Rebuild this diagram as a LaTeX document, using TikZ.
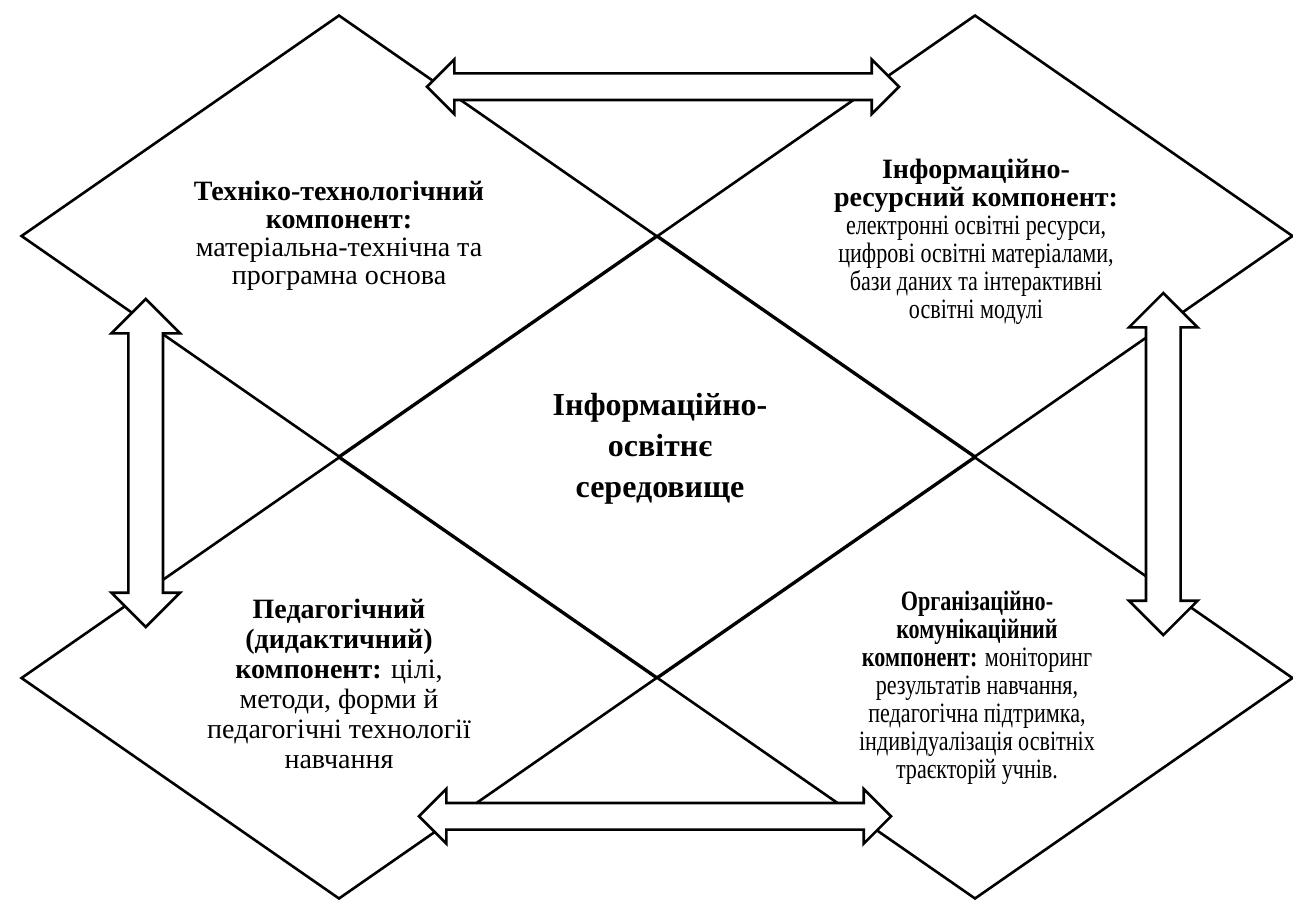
\documentclass[tikz,border=0pt]{standalone}
\usepackage{fontspec}
\setmainfont{Liberation Serif}
\newfontfamily\narrowserif[FakeStretch=0.79]{Liberation Serif}
\usetikzlibrary{shapes.geometric,shapes.arrows,calc}

\tikzset{
	comp/.style={diamond, draw, line width=1.3pt, inner sep=0pt,
		minimum width=318pt, minimum height=221pt},
	comptext/.style={align=center, font=\fontsize{14}{14}\selectfont},
	hollowarrow/.style={double arrow, draw, fill=white, line width=1.3pt,
		inner xsep=0pt, inner ysep=6pt, double arrow head extend=7pt},
	widearrow/.style={hollowarrow, inner ysep=8pt, double arrow head extend=8.5pt}
}

\begin{document}
\begin{tikzpicture}[x=0.5pt,y=-0.5pt]
	\useasboundingbox (0,0) rectangle (1293,902);
	% five diamonds sharing their corners
	\node[comp] (techComp) at (339,236) {};
	\node[comp] (resComp) at (975,236) {};
	\node[comp] (envCore) at (657,457) {};
	\node[comp] (pedComp) at (339,678) {};
	\node[comp] (orgComp) at (975,678) {};
	% links between components
	\node[hollowarrow, minimum height=236pt] (arrTop)
		at ([xshift=3pt,yshift=-36.5pt]$(techComp.north)!.5!(resComp.north)$) {};
	\node[hollowarrow, minimum height=236pt] (arrBottom)
		at ([xshift=-1pt,yshift=42pt]$(pedComp.south)!.5!(orgComp.south)$) {};
	\node[widearrow, rotate=90, minimum height=164pt] (arrLeft)
		at ([xshift=63pt,yshift=-3pt]$(techComp.west)!.5!(pedComp.west)$) {};
	\node[widearrow, rotate=90, minimum height=171pt] (arrRight)
		at ([xshift=-65.5pt,yshift=-3.5pt]$(resComp.east)!.5!(orgComp.east)$) {};
	% texts
	\node[comptext] (techText) at (techComp.center)
		{\textbf{Техніко-технологічний}\\ \textbf{компонент:}\\
		матеріальна-технічна та\\ програмна основа};
	\node[comptext] (resText) at ([xshift=.5pt,yshift=-3pt]resComp.center)
		{\textbf{Інформаційно-}\\ \textbf{ресурсний компонент:}\\
		{\narrowserif електронні освітні ресурси,}\\
		{\narrowserif цифрові освітні матеріалами,}\\
		{\narrowserif бази даних та інтерактивні}\\
		{\narrowserif освітні модулі}};
	\node[comptext, font=\fontsize{16}{20.5}\selectfont\bfseries] (envText)
		at ([xshift=1.5pt,yshift=4pt]envCore.center)
		{Інформаційно-\\ освітнє\\ середовище};
	\node[comptext, font=\fontsize{14}{15}\selectfont] (pedText)
		at ([yshift=-3pt]pedComp.center)
		{\textbf{Педагогічний}\\ \textbf{(дидактичний)}\\
		\textbf{компонент:} цілі,\\ методи, форми й\\
		педагогічні технології\\ навчання};
	\node[comptext, font=\fontsize{14}{14}\selectfont\narrowserif] (orgText)
		at ([xshift=1pt,yshift=-5pt]orgComp.center)
		{\textbf{Організаційно-}\\ \textbf{комунікаційний}\\
		\textbf{компонент:} моніторинг\\ результатів навчання,\\
		педагогічна підтримка,\\ індивідуалізація освітніх\\
		траєкторій учнів.};
\end{tikzpicture}
\end{document}
